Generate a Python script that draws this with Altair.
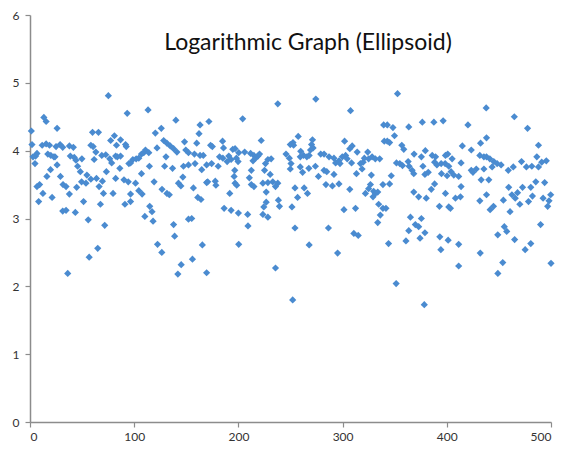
import altair as alt
import pandas as pd

title_text = "Logarithmic Graph (Ellipsoid)"
x_ticks = [0, 100, 200, 300, 400, 500]
y_ticks = [0, 1, 2, 3, 4, 5, 6]

xs = [
    75.2, 13.3, 15.5, 1.3, 26, 60, 65.7, 81, 77.4, 1.9, 11.7, 15.5, 18.7, 25, 28.9, 31.4, 37.8, 41.6, 58.4, 60.6,
    63.2, 83, 6.7, 5.4, 2.9, 17.1, 20, 22.9, 24, 38.7, 42.5, 44.1, 49.8, 68.9, 72.7, 76.5, 78.4, 82.2, 61.6, 4.8,
    26, 19.7, 16.2, 29.2, 45.7, 48.3, 54.6, 49.5, 53.7, 58.4, 63.8, 73.3, 69.5, 82.2, 9.2, 6.7, 31.7, 34.6, 44.8, 66.3,
    70.5, 79.7, 12.4, 37.8, 21.2, 8.3, 51.4, 67.6, 31.4, 34.6, 43.5, 55.9, 71.7, 65, 56.8, 36.2,
    93.3, 113.3, 140, 120.3, 126, 163.2, 162.2, 160, 86.9, 91.7, 92.4, 128.3, 131.4, 134.6, 137.8, 148.3, 149.5, 152.1, 157.8, 163.2,
    166.3, 121.9, 110.8, 109.2, 107, 114, 83.8, 86.9, 98.7, 101.9, 104.4, 96.5, 94.9, 130.5, 141, 114.6, 129.2, 136.8, 147.3, 152.1,
    158.4, 169.5, 86.2, 107, 90.2, 94.3, 101.3, 119.1, 146.7, 142.5, 144.8, 156.8, 169.5, 126.7, 131.4, 133.7, 104.4, 107.6, 96.5, 91.1,
    96.5, 161, 164.1, 114.9, 117.1, 110.2, 118.1, 152.1, 155.2, 137.8, 138.8, 122.4, 126.5, 165.4, 155.9, 145.1, 141.9, 169.5,
    237.8, 204.1, 171.7, 184.8, 221.9, 252.4, 249.8, 173.3, 175, 185.7, 194.6, 196.8, 200.3, 206, 211.7, 214.9, 181.9, 185.1, 189.2, 193,
    190.8, 174.3, 180.6, 198.1, 199.7, 214, 216.5, 218.7, 220.3, 228.3, 231.4, 226, 245.7, 248.9, 250.5, 249.8, 253, 164.8, 196.5, 212.4,
    225.1, 230.5, 195.9, 210.5, 170.5, 177.8, 178.4, 196.8, 198.4, 212.4, 214.9, 223.5, 228.3, 233, 237.8, 235.6, 254.3, 191.7, 226.7, 226.7,
    238.4, 224.4, 239.4, 186.3, 193, 200, 208.9, 223.5, 228.3, 251.4, 209.2, 254.3, 200.3, 235.6, 252.1,
    274.3, 307.6, 339.4, 257.4, 271.1, 270.2, 271.7, 269.2, 301.9, 309.2, 306.9, 314, 324.1, 340, 259.8, 259.4, 262.5, 265.7, 267.9, 279,
    282.2, 287, 291.7, 296.5, 299.7, 302.9, 304.4, 293.3, 297.5, 308.6, 317.1, 319.7, 320.9, 325, 328.3, 331.4, 335.6, 259.4, 267.6, 273.9,
    282.2, 284.8, 261.6, 291.7, 313.3, 318.7, 276.8, 327.6, 338.7, 284, 290.2, 296.5, 306.9, 263.1, 256.8, 266.3, 326.7, 325, 321.9, 329.8,
    331.4, 329.2, 333.7, 334.6, 338.7, 336.2, 333.7, 301.3, 312.4, 286.4, 310.8, 315, 267.9, 295.2,
    352.7, 376.5, 387.6, 396.5, 342.9, 348.3, 363.5, 420.3, 349.8, 342.9, 345.1, 356.8, 358.7, 414.9, 423.5, 368.6, 375.6, 379.4, 386, 389.2,
    398.7, 400.9, 405.1, 351.7, 354.9, 357.5, 362.9, 363.8, 377.1, 388.3, 390.5, 394.6, 398.4, 401.9, 404.1, 406.7, 411.4, 413.7, 423.5, 425.1,
    366.7, 368.3, 379, 382.2, 394.9, 400.3, 346.7, 345.1, 388.3, 385.1, 413.7, 368.3, 373, 380.3, 398.7, 408.3, 413.1, 392.9, 401.9, 403.5,
    341.6, 365.1, 375.6, 369.8, 373, 363.5, 379, 374.3, 360.8, 393.3, 401.3, 411.4, 394.3, 344.1, 411.4, 351.4, 378.4,
    437.8, 464.8, 477.5, 438.1, 432.4, 488, 431.7, 435.6, 438.1, 441.3, 445.1, 448.3, 452.1, 428.3, 435.6, 443.5, 459, 463.8, 471.7, 476.4,
    481.6, 486.4, 491.1, 495.5, 488, 433, 440.3, 485.4, 493.9, 459.4, 472.7, 480.6, 438.1, 431.7, 454.3, 462.5, 467.9, 465.7, 470.1, 482.2,
    492.4, 499.7, 498.1, 496.8, 478.4, 444.8, 441.6, 460.7, 455.2, 457.5, 448.9, 465.1, 490, 480.6, 475.2, 432.1, 453.7, 449, 500,
]

ys = [
    4.81, 4.49, 4.43, 4.29, 4.33, 4.27, 4.27, 4.22, 4.15, 4.09, 4.08, 4.10, 4.08, 4.06, 4.09, 4.05, 4.07, 4.05, 4.08, 4.06,
    3.98, 4.08, 3.96, 3.92, 3.91, 3.95, 3.93, 3.91, 3.91, 3.92, 3.90, 3.86, 3.88, 3.93, 3.94, 3.88, 3.82, 3.92, 3.87, 3.81,
    3.79, 3.72, 3.62, 3.62, 3.77, 3.69, 3.64, 3.54, 3.52, 3.58, 3.59, 3.69, 3.55, 3.59, 3.50, 3.47, 3.50, 3.47, 3.46, 3.47,
    3.37, 3.37, 3.37, 3.36, 3.31, 3.25, 3.25, 3.21, 3.11, 3.12, 3.09, 2.98, 2.90, 2.56, 2.43, 2.19,
    4.55, 4.60, 4.45, 4.26, 4.33, 4.38, 4.25, 4.11, 4.16, 4.09, 4.06, 4.15, 4.11, 4.07, 4.03, 4.13, 4.01, 3.97, 3.95, 3.93,
    3.93, 4.04, 4.01, 3.97, 3.95, 3.97, 3.91, 3.92, 3.87, 3.88, 3.89, 3.82, 3.81, 3.91, 3.98, 3.77, 3.77, 3.74, 3.77, 3.79,
    3.81, 3.79, 3.74, 3.66, 3.57, 3.54, 3.52, 3.54, 3.61, 3.52, 3.48, 3.45, 3.53, 3.43, 3.37, 3.35, 3.41, 3.36, 3.36, 3.21,
    3.25, 3.31, 3.28, 3.18, 3.10, 3.03, 2.96, 2.99, 3.00, 2.91, 2.74, 2.62, 2.50, 2.61, 2.40, 2.32, 2.18, 2.20,
    4.69, 4.47, 4.43, 4.14, 4.15, 4.12, 4.09, 4.08, 4.06, 4.04, 4.02, 4.03, 3.97, 3.98, 3.96, 3.93, 3.91, 3.89, 3.84, 3.87,
    3.92, 3.81, 3.77, 3.89, 3.84, 3.85, 3.89, 3.92, 3.95, 3.87, 3.88, 3.81, 3.95, 3.89, 3.81, 3.73, 4.08, 3.72, 3.71, 3.71,
    3.71, 3.65, 3.62, 3.60, 3.54, 3.55, 3.49, 3.52, 3.49, 3.50, 3.47, 3.52, 3.53, 3.54, 3.52, 3.47, 3.45, 3.37, 3.39, 3.24,
    3.27, 3.17, 3.18, 3.15, 3.12, 3.08, 3.06, 3.06, 3.02, 3.17, 2.89, 2.86, 2.62, 2.27, 1.80,
    4.76, 4.59, 4.38, 4.21, 4.16, 4.09, 4.04, 4.01, 4.14, 4.07, 4.03, 3.98, 3.98, 4.14, 3.99, 3.91, 3.93, 3.91, 3.93, 3.95,
    3.95, 3.91, 3.89, 3.85, 3.91, 3.93, 3.88, 3.82, 3.81, 3.82, 3.81, 3.83, 3.89, 3.88, 3.91, 3.88, 3.88, 3.76, 3.74, 3.77,
    3.71, 3.69, 3.68, 3.65, 3.66, 3.73, 3.62, 3.64, 3.50, 3.50, 3.48, 3.51, 3.43, 3.45, 3.31, 3.37, 3.50, 3.44, 3.37, 3.40,
    3.37, 3.32, 3.39, 3.21, 3.15, 3.05, 2.94, 3.13, 3.15, 2.86, 2.78, 2.75, 2.61, 2.49,
    4.84, 4.42, 4.42, 4.44, 4.38, 4.34, 4.35, 4.38, 4.22, 4.14, 4.12, 4.08, 4.02, 4.07, 4.01, 3.95, 3.91, 4.00, 3.93, 3.91,
    3.93, 3.95, 3.88, 3.82, 3.81, 3.78, 3.84, 3.77, 3.77, 3.83, 3.79, 3.81, 3.81, 3.77, 3.69, 3.64, 3.62, 3.82, 3.71, 3.68,
    3.71, 3.66, 3.65, 3.68, 3.66, 3.63, 3.63, 3.51, 3.51, 3.43, 3.47, 3.39, 3.32, 3.30, 3.37, 3.30, 3.32, 3.18, 3.17, 3.15,
    3.15, 3.02, 3.00, 2.91, 2.88, 2.82, 2.79, 2.71, 2.67, 2.73, 2.68, 2.62, 2.54, 2.63, 2.30, 2.04, 1.73,
    4.63, 4.50, 4.33, 4.19, 4.11, 4.08, 3.93, 3.91, 3.91, 3.88, 3.84, 3.81, 3.79, 3.73, 3.73, 3.76, 3.71, 3.76, 3.84, 3.76,
    3.77, 3.91, 3.83, 3.85, 3.76, 3.57, 3.57, 3.54, 3.53, 3.46, 3.46, 3.46, 3.35, 3.26, 3.27, 3.35, 3.38, 3.30, 3.21, 3.33,
    3.30, 3.35, 3.26, 3.18, 3.25, 3.18, 3.13, 3.10, 2.88, 2.81, 2.76, 2.69, 2.91, 2.63, 2.54, 2.49, 2.35, 2.19, 2.34,
]

n = min(len(xs), len(ys))
df = pd.DataFrame({"x": xs[:n], "y": ys[:n]})

points = alt.Chart(df).mark_point(
    shape="diamond", filled=True, size=52, color="#4A8BD0", opacity=1, strokeWidth=0
).encode(
    x=alt.X("x:Q", scale=alt.Scale(domain=[0, 500], nice=False, zero=False),
            axis=alt.Axis(values=x_ticks, title=None, grid=False, labelPadding=4)),
    y=alt.Y("y:Q", scale=alt.Scale(domain=[0, 6], nice=False),
            axis=alt.Axis(values=y_ticks, title=None, grid=False, labelPadding=6)),
)

title_df = pd.DataFrame({"t": [title_text]})
title_mark = alt.Chart(title_df).mark_text(
    font="Lato", fontSize=23, color="#111111", align="center", baseline="middle"
).encode(x=alt.value(278), y=alt.value(28), text="t:N")

chart = alt.layer(points, title_mark).properties(
    width=521, height=407,
    autosize=alt.AutoSizeParams(type="none"),
    padding={"left": 22, "top": 7, "right": 10, "bottom": 24},
).configure_view(stroke=None).configure_axis(
    domainColor="#8C8C8C", tickColor="#8C8C8C", domainWidth=1.5, tickWidth=1.2,
    tickSize=5, labelColor="#333333", labelFont="Lato", labelFontSize=12,
)

chart.save("out.html", embed_options={"renderer": "svg", "actions": False})
